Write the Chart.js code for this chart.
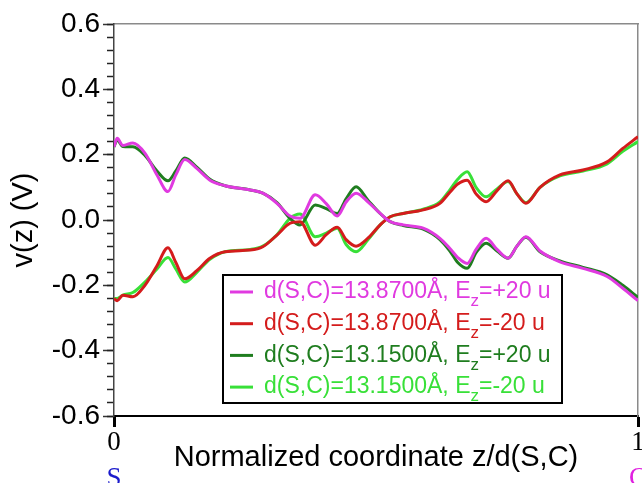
<!DOCTYPE html>
<html>
<head>
<meta charset="utf-8">
<script src="https://cdn.jsdelivr.net/npm/chart.js@4/dist/chart.umd.min.js"></script>
<style>
  body { margin: 0; background: #fff; }
</style>
</head>
<body>
<canvas id="potChart" width="642" height="483"></canvas>
<script>
// normalized coordinate z/d(S,C)
const xs = [0, 0.006, 0.017, 0.036, 0.059, 0.082, 0.103, 0.118, 0.135, 0.158, 0.183, 0.212, 0.26, 0.284, 0.311, 0.336, 0.355, 0.384, 0.405, 0.426, 0.443, 0.462, 0.485, 0.508, 0.527, 0.552, 0.59, 0.622, 0.641, 0.656, 0.674, 0.691, 0.71, 0.731, 0.752, 0.769, 0.786, 0.813, 0.851, 0.895, 0.941, 0.971, 1.0];

// v(z) in V
const d1387Plus = [0.224, 0.25, 0.228, 0.236, 0.205, 0.138, 0.087, 0.138, 0.185, 0.158, 0.122, 0.105, 0.092, 0.082, 0.051, 0.012, 0.005, 0.077, 0.05, 0.012, 0.055, 0.082, 0.055, 0.02, -0.005, -0.015, -0.025, -0.056, -0.087, -0.115, -0.133, -0.09, -0.056, -0.09, -0.117, -0.08, -0.051, -0.095, -0.128, -0.148, -0.173, -0.209, -0.247];
const d1387Minus = [-0.24, -0.247, -0.23, -0.235, -0.2, -0.14, -0.085, -0.13, -0.18, -0.155, -0.117, -0.097, -0.092, -0.082, -0.046, -0.01, -0.005, -0.077, -0.045, -0.022, -0.06, -0.08, -0.055, -0.015, 0.01, 0.02, 0.031, 0.051, 0.085, 0.11, 0.122, 0.08, 0.056, 0.09, 0.12, 0.08, 0.051, 0.1, 0.138, 0.153, 0.178, 0.219, 0.255];
const d1315Plus = [0.224, 0.245, 0.225, 0.224, 0.198, 0.15, 0.12, 0.15, 0.19, 0.162, 0.125, 0.105, 0.092, 0.082, 0.053, 0.005, -0.015, 0.046, 0.035, 0.02, 0.065, 0.102, 0.06, 0.02, -0.005, -0.017, -0.028, -0.06, -0.095, -0.13, -0.148, -0.1, -0.071, -0.095, -0.117, -0.08, -0.053, -0.097, -0.125, -0.145, -0.168, -0.2, -0.237];
const d1315Minus = [-0.24, -0.24, -0.23, -0.222, -0.19, -0.15, -0.115, -0.15, -0.19, -0.16, -0.12, -0.097, -0.09, -0.08, -0.045, 0.005, 0.018, -0.051, -0.04, -0.025, -0.075, -0.097, -0.06, -0.015, 0.01, 0.02, 0.033, 0.055, 0.092, 0.125, 0.148, 0.1, 0.071, 0.095, 0.118, 0.08, 0.053, 0.1, 0.135, 0.15, 0.172, 0.21, 0.24];

const labels = [
  'd(S,C)=13.8700Å, E_z=+20 u',
  'd(S,C)=13.8700Å, E_z=-20 u',
  'd(S,C)=13.1500Å, E_z=+20 u',
  'd(S,C)=13.1500Å, E_z=-20 u'
];
const colors = ['#e03ae0', '#d41c1c', '#1f7d1f', '#38e038'];
const yTicks = [-0.6, -0.4, -0.2, 0.0, 0.2, 0.4, 0.6];
const yMinorTicks = [];
for (let k = -15; k <= 15; k++) yMinorTicks.push(k * 0.04);
const endLabels = ['S', 'C'];
const endColors = ['#1a1acc', '#e020e0'];

const sans = '"Liberation Sans", Arial, sans-serif';
const serif = '"Liberation Serif", "Times New Roman", serif';

function series(vals) {
  return xs.map((x, i) => ({ x: x, y: vals[i] }));
}

// boxed legend with subscript z, drawn on the canvas
const boxLegend = {
  id: 'boxLegend',
  afterDraw(chart) {
    const ctx = chart.ctx;
    const a = chart.chartArea;
    const x0 = a.left + 109, y0 = a.top + 251, w = 339, h = 128;
    const fs = 23;
    ctx.save();
    ctx.fillStyle = '#fff';
    ctx.fillRect(x0, y0, w, h);
    ctx.strokeStyle = '#000';
    ctx.lineWidth = 2;
    ctx.strokeRect(x0, y0, w, h);
    chart.data.datasets.forEach((ds, i) => {
      const cy = y0 + 17 + i * 31.7;
      ctx.strokeStyle = ds.borderColor;
      ctx.lineWidth = 3;
      ctx.beginPath();
      ctx.moveTo(x0 + 7, cy);
      ctx.lineTo(x0 + 30, cy);
      ctx.stroke();
      const parts = ds.label.split('_z');
      ctx.fillStyle = ds.borderColor;
      ctx.textBaseline = 'middle';
      ctx.textAlign = 'left';
      let tx = x0 + 41;
      ctx.font = fs + 'px ' + sans;
      ctx.fillText(parts[0], tx, cy);
      tx += ctx.measureText(parts[0]).width;
      ctx.font = Math.round(fs * 0.72) + 'px ' + sans;
      ctx.fillText('z', tx, cy + fs * 0.42);
      tx += ctx.measureText('z').width;
      ctx.font = fs + 'px ' + sans;
      ctx.fillText(parts[1], tx, cy);
    });
    ctx.restore();
  }
};

// S and C markers under the x ticks
const endMarks = {
  id: 'endMarks',
  afterDraw(chart) {
    const ctx = chart.ctx;
    const sx = chart.scales.x;
    ctx.save();
    ctx.font = '27px ' + serif;
    ctx.textAlign = 'center';
    ctx.textBaseline = 'middle';
    [0, 1].forEach((v, i) => {
      ctx.fillStyle = endColors[i];
      ctx.fillText(endLabels[i], sx.getPixelForValue(v), sx.bottom - 4);
    });
    ctx.restore();
  }
};

const ctx = document.getElementById('potChart').getContext('2d');
new Chart(ctx, {
  type: 'line',
  data: {
    datasets: [
      { label: labels[0], data: series(d1387Plus), borderColor: colors[0] },
      { label: labels[1], data: series(d1387Minus), borderColor: colors[1] },
      { label: labels[2], data: series(d1315Plus), borderColor: colors[2] },
      { label: labels[3], data: series(d1315Minus), borderColor: colors[3] }
    ]
  },
  options: {
    responsive: false,
    animation: false,
    devicePixelRatio: 1,
    layout: { padding: { top: 24, right: 4, bottom: 0, left: 0 } },
    elements: {
      point: { radius: 0 },
      line: { borderWidth: 3, cubicInterpolationMode: 'monotone', fill: false }
    },
    plugins: {
      legend: { display: false },
      tooltip: { enabled: false }
    },
    scales: {
      x: {
        type: 'linear',
        position: 'bottom',
        min: 0,
        max: 1,
        ticks: { stepSize: 1, padding: 0, color: '#000', font: { family: serif, size: 27 } },
        grid: { drawOnChartArea: false, tickLength: 11, tickWidth: 3, tickColor: '#000' },
        border: { color: '#000', width: 2 },
        title: {
          display: true,
          text: 'Normalized coordinate z/d(S,C)',
          color: '#000',
          font: { family: sans, size: 29 },
          padding: { top: 0, bottom: 8 }
        },
        afterFit(s) { s.height = 67; s.paddingLeft = 0; s.paddingRight = 0; }
      },
      xTop: {
        type: 'linear',
        position: 'top',
        min: 0,
        max: 1,
        ticks: { display: false },
        grid: { display: false },
        border: { color: '#8a8a8a', width: 1.5 },
        afterFit(s) { s.height = 0; s.paddingLeft = 0; s.paddingRight = 0; }
      },
      y: {
        type: 'linear',
        position: 'left',
        weight: 1,
        min: -0.6,
        max: 0.6,
        afterBuildTicks(s) { s.ticks = yTicks.map(v => ({ value: v })); },
        ticks: {
          padding: 3,
          color: '#000',
          font: { family: sans, size: 28 },
          callback: v => (Math.abs(v) < 1e-9 ? 0 : v).toFixed(1)
        },
        grid: { drawOnChartArea: false, tickLength: 11, tickWidth: 1.5, tickColor: '#333' },
        border: { display: false },
        title: {
          display: true,
          text: 'v(z) (V)',
          color: '#000',
          font: { family: sans, size: 29 },
          padding: { top: 7, bottom: 0 }
        },
        afterFit(s) { s.width = 114; s.paddingTop = 0; s.paddingBottom = 0; }
      },
      yMinor: {
        type: 'linear',
        position: 'left',
        weight: 0,
        min: -0.6,
        max: 0.6,
        afterBuildTicks(s) { s.ticks = yMinorTicks.map(v => ({ value: v })); },
        ticks: { display: false },
        grid: { drawOnChartArea: false, tickLength: 7, tickWidth: 1.5, tickColor: '#222' },
        border: { color: '#444', width: 1.5 },
        afterFit(s) { s.width = 0; s.paddingTop = 0; s.paddingBottom = 0; }
      },
      yRight: {
        type: 'linear',
        position: 'right',
        min: -0.6,
        max: 0.6,
        ticks: { display: false },
        grid: { display: false },
        border: { color: '#8a8a8a', width: 1.5 },
        afterFit(s) { s.width = 0; s.paddingTop = 0; s.paddingBottom = 0; }
      }
    }
  },
  plugins: [boxLegend, endMarks]
});
</script>
</body>
</html>
